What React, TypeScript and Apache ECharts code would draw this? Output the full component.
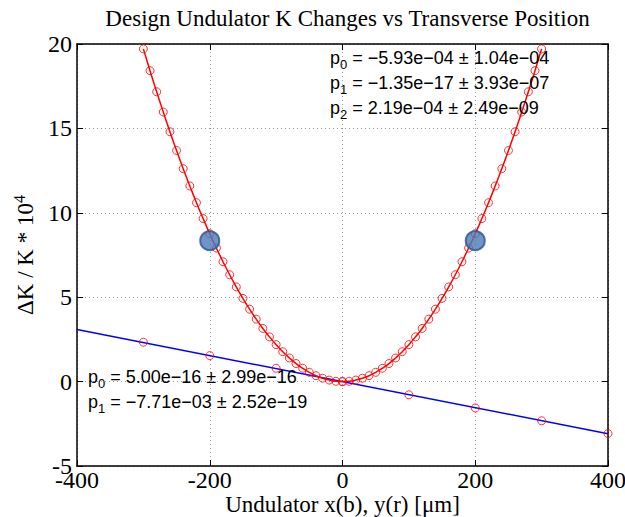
import React, { useEffect, useRef } from "react";
import * as echarts from "echarts";

const quadX = [
  -300, -290, -280, -270, -260, -250, -240, -230, -220, -210, -200, -190, -180, -170, -160, -150,
  -140, -130, -120, -110, -100, -90, -80, -70, -60, -50, -40, -30, -20, -10, 0, 10, 20, 30, 40, 50,
  60, 70, 80, 90, 100, 110, 120, 130, 140, 150, 160, 170, 180, 190, 200, 210, 220, 230, 240, 250,
  260, 270, 280, 290, 300,
];
const quadY = [
  19.71, 18.42, 17.17, 15.97, 14.8, 13.69, 12.61, 11.59, 10.6, 9.66, 8.76, 7.91, 7.1, 6.33, 5.61,
  4.93, 4.29, 3.7, 3.15, 2.65, 2.19, 1.77, 1.4, 1.07, 0.79, 0.55, 0.35, 0.2, 0.09, 0.02, 0.0, 0.02,
  0.09, 0.2, 0.35, 0.55, 0.79, 1.07, 1.4, 1.77, 2.19, 2.65, 3.15, 3.7, 4.29, 4.93, 5.61, 6.33, 7.1,
  7.91, 8.76, 9.66, 10.6, 11.59, 12.61, 13.69, 14.8, 15.97, 17.17, 18.42, 19.71,
];
const linX = [-300, -200, -100, 0, 100, 200, 300, 400];
const linY = [2.33, 1.54, 0.79, 0.0, -0.78, -1.56, -2.32, -3.08];
const fitLineX = [-400, 400];
const fitLineY = [3.084, -3.084];
const designX = [-200, 200];
const designY = [8.35, 8.35];

const xTicks = { min: -400, max: 400, interval: 200 };
const yTicks = { min: -5, max: 20, interval: 5 };

const quadFit = ["−5.93e−04 ± 1.04e−04", "−1.35e−17 ± 3.93e−07", "2.19e−04 ± 2.49e−09"];
const linFit = ["5.00e−16 ± 2.99e−16", "−7.71e−03 ± 2.52e−19"];

const SERIF = "Liberation Serif";
const SANS = "Liberation Sans";

export default function App() {
  const ref = useRef<HTMLDivElement>(null);
  useEffect(() => {
    if (!ref.current) return;
    const chart = echarts.init(ref.current, null, { renderer: "svg" });
    const zip = (xs: number[], ys: number[]) => xs.map((x, i) => [x, ys[i]]);
    const annoRich = {
      t: { fontFamily: SANS, fontSize: 18, color: "#000" },
      s: { fontFamily: SANS, fontSize: 13, color: "#000", padding: [14, 0, 0, 0] },
    };
    const annoText = (lines: string[]) =>
      lines.map((l, i) => `{t|p}{s|${i}}{t| = ${l}}`).join("\n");
    const gridLeft = 77;
    const gridTop = 44;
    const gridW = 531;
    const gridH = 422;
    const tickLabel = { fontFamily: SERIF, fontSize: 24, color: "#000" };
    chart.setOption({
      animation: false,
      backgroundColor: "#fff",
      title: {
        text: "Design Undulator K Changes vs Transverse Position",
        left: gridLeft + gridW / 2,
        textAlign: "center",
        top: 2,
        textStyle: { fontFamily: SERIF, fontSize: 23, fontWeight: "normal", color: "#000" },
      },
      grid: {
        left: gridLeft,
        top: gridTop,
        width: gridW,
        height: gridH,
        containLabel: false,
        outerBoundsMode: "none",
      },
      xAxis: [
        {
          type: "value",
          ...xTicks,
          position: "bottom",
          name: "Undulator x(b), y(r) [μm]",
          nameLocation: "middle",
          nameGap: 27,
          nameMoveOverlap: false,
          nameTextStyle: { fontFamily: SERIF, fontSize: 23, color: "#000" },
          axisLine: { onZero: false, lineStyle: { color: "#000", width: 1.5 } },
          axisTick: { inside: true, length: 6, lineStyle: { color: "#000" } },
          axisLabel: { ...tickLabel, margin: 2 },
          splitLine: { show: true, lineStyle: { type: [1, 3], color: "#999" } },
        },
        {
          type: "value",
          ...xTicks,
          position: "top",
          axisLine: { onZero: false, lineStyle: { color: "#000", width: 1.5 } },
          axisTick: { inside: true, length: 6, lineStyle: { color: "#000" } },
          axisLabel: { show: false },
          splitLine: { show: false },
        },
      ],
      yAxis: [
        {
          type: "value",
          ...yTicks,
          position: "left",
          name: "ΔK / K * 10{sup|4}",
          nameLocation: "middle",
          nameGap: 34,
          nameTextStyle: {
            fontFamily: SERIF,
            fontSize: 23,
            color: "#000",
            rich: { sup: { fontFamily: SERIF, fontSize: 16, color: "#000", padding: [0, 0, 12, 0] } },
          },
          axisLine: { onZero: false, lineStyle: { color: "#000", width: 1.5 } },
          axisTick: { inside: true, length: 6, lineStyle: { color: "#000" } },
          axisLabel: { ...tickLabel, margin: 5 },
          splitLine: { show: true, lineStyle: { type: [1, 3], color: "#999" } },
        },
        {
          type: "value",
          ...yTicks,
          position: "right",
          axisLine: { onZero: false, lineStyle: { color: "#000", width: 1.5 } },
          axisTick: { inside: true, length: 6, lineStyle: { color: "#000" } },
          axisLabel: { show: false },
          splitLine: { show: false },
        },
      ],
      series: [
        {
          type: "line",
          data: zip(fitLineX, fitLineY),
          symbol: "none",
          lineStyle: { color: "#0000ff", width: 1.5 },
          z: 3,
        },
        {
          type: "line",
          data: zip(quadX, quadY),
          smooth: true,
          symbol: "none",
          lineStyle: { color: "#ff0000", width: 1.5 },
          z: 4,
        },
        {
          type: "scatter",
          data: zip(quadX, quadY),
          symbol: "circle",
          symbolSize: 8,
          itemStyle: { color: "rgba(255,255,255,0)", borderColor: "#ff0000", borderWidth: 1 },
          z: 5,
        },
        {
          type: "scatter",
          data: zip(linX, linY),
          symbol: "circle",
          symbolSize: 8,
          itemStyle: { color: "rgba(255,255,255,0)", borderColor: "#ff0000", borderWidth: 1 },
          z: 5,
        },
        {
          type: "scatter",
          data: zip(designX, designY),
          symbol: "circle",
          symbolSize: 19,
          itemStyle: { color: "#4a7ab8", borderColor: "#2a5290", borderWidth: 2 },
          z: 6,
        },
      ],
      graphic: [
        {
          type: "text",
          left: 330,
          top: 45,
          z: 10,
          style: { text: annoText(quadFit), rich: annoRich, lineHeight: 25 },
        },
        {
          type: "text",
          left: 88,
          top: 364,
          z: 10,
          style: { text: annoText(linFit), rich: annoRich, lineHeight: 25 },
        },
      ],
    });
    return () => chart.dispose();
  }, []);
  return (
    <div
      ref={ref}
      style={{ position: "fixed", left: 0, top: 0, width: 625, height: 517, background: "#fff" }}
    />
  );
}
